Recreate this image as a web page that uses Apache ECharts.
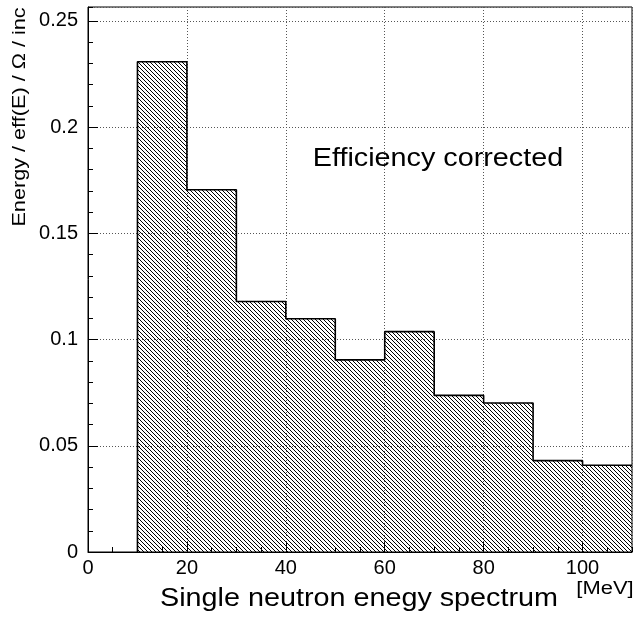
<!DOCTYPE html>
<html>
<head>
<meta charset="utf-8">
<script src="https://cdn.jsdelivr.net/npm/echarts@6/dist/echarts.min.js"></script>
<style>html,body{margin:0;padding:0;background:#fff;}#c{width:634px;height:617px;}</style>
</head>
<body>
<div id="c"></div>
<script>
// Histogram data: bin low edges (MeV) and contents
var binEdges = [10, 20, 30, 40, 50, 60, 70, 80, 90, 100, 110];
var binValues = [0.2307, 0.1705, 0.1179, 0.1098, 0.0904, 0.1037, 0.0737, 0.0701, 0.0430, 0.0408];
var xTicks = [0, 20, 40, 60, 80, 100];
var yTicks = [0, 0.05, 0.1, 0.15, 0.2, 0.25];

var FONT = 'Liberation Sans, Arial, Helvetica, sans-serif';

// hatch pattern (\\\ direction), transparent background
var pc = document.createElement('canvas');
pc.width = 4; pc.height = 4;
var pctx = pc.getContext('2d');
pctx.fillStyle = '#000';
for (var i = 0; i < 4; i++) { pctx.fillRect(i, i, 1, 1); }

var stepData = [[binEdges[0], 0]];
for (var k = 0; k < binValues.length; k++) {
  stepData.push([binEdges[k], binValues[k]]);
}
stepData.push([binEdges[binEdges.length - 1], binValues[binValues.length - 1]]);

var chart = echarts.init(document.getElementById('c'), null, {renderer: 'canvas'});
var gridLine = {show: true, lineStyle: {color: '#555', width: 1, type: [1, 2]}};
chart.setOption({
  animation: false,
  backgroundColor: '#fff',
  grid: {left: 88, top: 7, width: 544, height: 545, show: true, borderColor: '#000', borderWidth: 1, backgroundColor: '#fff'},
  xAxis: [{
    type: 'value', min: 0, max: 110, interval: 20, position: 'bottom',
    axisLine: {lineStyle: {color: '#000', width: 1}},
    axisTick: {inside: true, length: 10, lineStyle: {color: '#000'}},
    axisLabel: {showMaxLabel: false, color: '#000', fontSize: 20, fontFamily: FONT, margin: 6,
      formatter: function (v) { return xTicks.indexOf(v) >= 0 ? String(v) : ''; }},
    splitLine: gridLine
  }, {
    type: 'value', min: 0, max: 110, interval: 5, position: 'bottom', offset: 0,
    axisLine: {show: false},
    axisTick: {inside: true, length: 5, lineStyle: {color: '#000'}},
    axisLabel: {show: false}, splitLine: {show: false}
  }],
  yAxis: [{
    type: 'value', min: 0, max: 0.2565, interval: 0.05, position: 'left',
    axisLine: {show: true, lineStyle: {color: '#000', width: 1}},
    axisTick: {show: true, inside: true, length: 10, lineStyle: {color: '#000'}},
    axisLabel: {showMaxLabel: false, color: '#000', fontSize: 20, fontFamily: FONT, margin: 10,
      formatter: function (v) {
        for (var j = 0; j < yTicks.length; j++) { if (Math.abs(yTicks[j] - v) < 1e-9) return String(yTicks[j]); }
        return '';
      }},
    splitLine: gridLine
  }, {
    type: 'value', min: 0, max: 0.2565, interval: 0.01, position: 'left', offset: 0,
    axisLine: {show: false},
    axisTick: {show: true, inside: true, length: 5, lineStyle: {color: '#000'}},
    axisLabel: {show: false}, splitLine: {show: false}
  }],
  series: [{
    type: 'line', xAxisIndex: 0, yAxisIndex: 0, step: 'end', symbol: 'none',
    data: stepData,
    lineStyle: {color: '#000', width: 1.6},
    areaStyle: {color: {image: pc, repeat: 'repeat'}, opacity: 1, origin: 'start'},
    z: 3
  }],
  graphic: [
    {type: 'text', x: 438, y: 159, scaleX: 1.15, z: 10,
     style: {text: 'Efficiency corrected', font: '25px ' + FONT, fill: '#000', align: 'center', verticalAlign: 'middle'}},
    {type: 'text', x: 359, y: 599, scaleX: 1.15, z: 10,
     style: {text: 'Single neutron enegy spectrum', font: '25px ' + FONT, fill: '#000', align: 'center', verticalAlign: 'middle'}},
    {type: 'text', x: 605, y: 589, scaleX: 1.22, z: 10,
     style: {text: '[MeV]', font: '18px ' + FONT, fill: '#000', align: 'center', verticalAlign: 'middle'}},
    {type: 'text', x: 19.5, y: 117, rotation: Math.PI / 2, scaleX: 1.14, z: 10,
     style: {text: 'Energy / eff(E) / \u03A9 / inc', font: '19px ' + FONT, fill: '#000', align: 'center', verticalAlign: 'middle'}}
  ]
});
</script>
</body>
</html>
